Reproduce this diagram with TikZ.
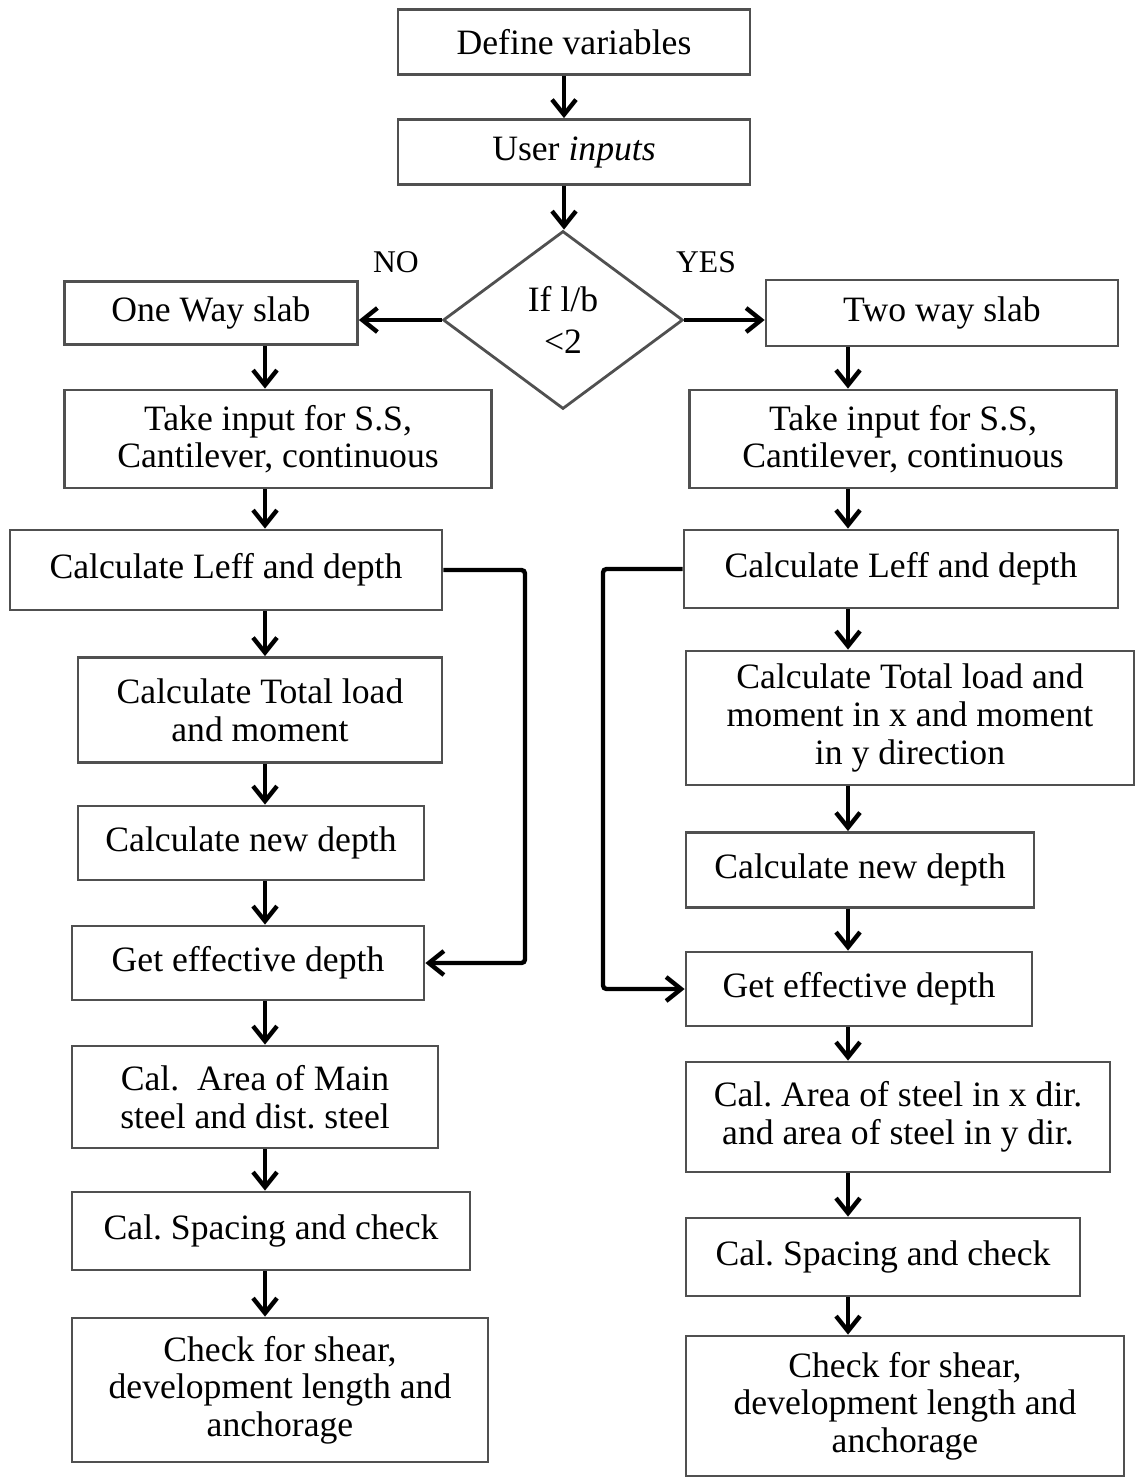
\documentclass[tikz,border=0pt]{standalone}
\usepackage{fontspec}
\setmainfont{Liberation Serif}
\usetikzlibrary{arrows.meta,shapes.geometric,positioning}
\definecolor{boxgray}{HTML}{505050}
\tikzset{
  stepbox/.style={draw=boxgray,line width=1.6pt,align=center,inner sep=0pt,font=\fontsize{20.3}{21.4}\selectfont},
  decide/.style={draw=boxgray,line width=1.6pt,diamond,aspect=1.35,align=center,inner sep=0pt,font=\fontsize{20.3}{23.5}\selectfont},
  flow/.style={line width=2.5pt,-{Straight Barb[length=0.3cm,width=0.48cm,line width=2.5pt]}},
  tag/.style={font=\fontsize{18}{20}\selectfont}
}
\begin{document}
\begin{tikzpicture}[x=0.02cm,y=-0.02cm]
	\useasboundingbox (0,0) rectangle (1134,1478);
	% top part
	\node (def) at (574,42)[stepbox,minimum width=7.04cm,minimum height=1.3cm] {Define variables};
	\node (inp) at (574,152)[stepbox,minimum width=7.04cm,minimum height=1.3cm] {User \textit{inputs}};
	\node (dec) at (563,320)[decide,minimum width=4.8cm,minimum height=3.56cm] {If l/b\\ {<}2};
	\node (no) at (396,262)[tag] {NO};
	\node (yes) at (706,262)[tag] {YES};
	% left column
	\node (one) at (211,313)[stepbox,minimum width=5.86cm,minimum height=1.26cm] {One Way slab};
	\node (lss) at (278,439)[stepbox,minimum width=8.54cm,minimum height=1.96cm] {Take input for S.S,\\ Cantilever, continuous};
	\node (lleff) at (226,570)[stepbox,minimum width=8.64cm,minimum height=1.6cm] {Calculate Leff and depth};
	\node (lload) at (260,710)[stepbox,minimum width=7.28cm,minimum height=2.1cm] {Calculate Total load\\ and moment};
	\node (lnew) at (251,843)[stepbox,minimum width=6.92cm,minimum height=1.48cm] {Calculate new depth};
	\node (leff) at (248,963)[stepbox,minimum width=7.04cm,minimum height=1.48cm] {Get effective depth};
	\node (lsteel) at (255,1097)[stepbox,minimum width=7.32cm,minimum height=2.04cm] {Cal.\ \ Area of Main\\ steel and dist.\ steel};
	\node (lspace) at (271,1231)[stepbox,minimum width=7.96cm,minimum height=1.56cm] {Cal.\ Spacing and check};
	\node (lshear) at (280,1390)[stepbox,minimum width=8.32cm,minimum height=2.88cm] {Check for shear,\\ development length and\\ anchorage};
	% right column
	\node (two) at (942,313)[stepbox,minimum width=7.04cm,minimum height=1.32cm] {Two way slab};
	\node (rss) at (903,439)[stepbox,minimum width=8.54cm,minimum height=1.96cm] {Take input for S.S,\\ Cantilever, continuous};
	\node (rleff) at (901,569)[stepbox,minimum width=8.68cm,minimum height=1.56cm] {Calculate Leff and depth};
	\node (rload) at (910,718)[stepbox,minimum width=8.96cm,minimum height=2.68cm] {Calculate Total load and\\ moment in x and moment\\ in y direction};
	\node (rnew) at (860,870)[stepbox,minimum width=6.96cm,minimum height=1.5cm] {Calculate new depth};
	\node (reff) at (859,989)[stepbox,minimum width=6.92cm,minimum height=1.48cm] {Get effective depth};
	\node (rsteel) at (898,1117)[stepbox,minimum width=8.48cm,minimum height=2.2cm] {Cal.\ Area of steel in x dir.\\ and area of steel in y dir.};
	\node (rspace) at (883,1257)[stepbox,minimum width=7.88cm,minimum height=1.56cm] {Cal.\ Spacing and check};
	\node (rshear) at (905,1406)[stepbox,minimum width=8.76cm,minimum height=2.8cm] {Check for shear,\\ development length and\\ anchorage};
	% arrow columns
	\coordinate (mc) at (564,0);
	\coordinate (lc) at (265,0);
	\coordinate (rc) at (848,0);
	\coordinate (lby) at (525,0);
	\coordinate (rby) at (603,0);
	\draw[flow] (def.south -| mc) -- (inp.north -| mc);
	\draw[flow] (inp.south -| mc) -- (dec.north -| mc);
	\draw[flow] (dec.west) -- (one.east |- dec.west);
	\draw[flow] (dec.east) -- (two.west |- dec.east);
	\draw[flow] (one.south -| lc) -- (lss.north -| lc);
	\draw[flow] (lss.south -| lc) -- (lleff.north -| lc);
	\draw[flow] (lleff.south -| lc) -- (lload.north -| lc);
	\draw[flow] (lload.south -| lc) -- (lnew.north -| lc);
	\draw[flow] (lnew.south -| lc) -- (leff.north -| lc);
	\draw[flow] (leff.south -| lc) -- (lsteel.north -| lc);
	\draw[flow] (lsteel.south -| lc) -- (lspace.north -| lc);
	\draw[flow] (lspace.south -| lc) -- (lshear.north -| lc);
	\draw[flow] (two.south -| rc) -- (rss.north -| rc);
	\draw[flow] (rss.south -| rc) -- (rleff.north -| rc);
	\draw[flow] (rleff.south -| rc) -- (rload.north -| rc);
	\draw[flow] (rload.south -| rc) -- (rnew.north -| rc);
	\draw[flow] (rnew.south -| rc) -- (reff.north -| rc);
	\draw[flow] (reff.south -| rc) -- (rsteel.north -| rc);
	\draw[flow] (rsteel.south -| rc) -- (rspace.north -| rc);
	\draw[flow] (rspace.south -| rc) -- (rshear.north -| rc);
	% bypass lines
	\draw[flow,rounded corners=2pt] (lleff.east) -- (lleff.east -| lby) -- (leff.east -| lby) -- (leff.east);
	\draw[flow,rounded corners=2pt] (rleff.west) -- (rleff.west -| rby) -- (reff.west -| rby) -- (reff.west);
\end{tikzpicture}
\end{document}
